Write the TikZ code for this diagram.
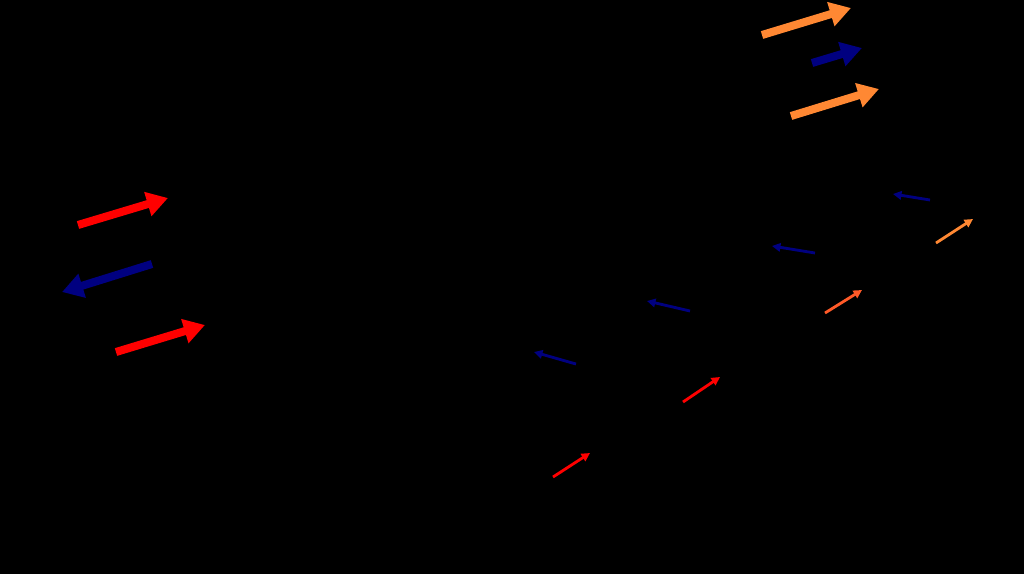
\documentclass[tikz,border=0pt]{standalone}
\usepackage{tikz}
\usetikzlibrary{arrows.meta,positioning}

\definecolor{spinred}{RGB}{255,0,0}
\definecolor{spinblue}{RGB}{0,0,128}
\definecolor{spinorange}{RGB}{255,136,51}
\definecolor{spinmid}{RGB}{255,90,40}

\tikzset{
	bigspin/.style={line width=5.7pt, -{Triangle[length=15pt, width=17pt]}},
	smallspin/.style={line width=2pt, -{Triangle[length=6pt, width=6pt]}}
}

\begin{document}
\begin{tikzpicture}[x=0.025cm, y=-0.025cm]
	\fill[black] (0,0) rectangle (1024,574);
	\useasboundingbox (0,0) rectangle (1024,574);

	\coordinate (aS) at (78,225);   \coordinate (aE) at (168,198);
	\coordinate (bS) at (152,264);  \coordinate (bE) at (62,292);
	\coordinate (cS) at (116,352);  \coordinate (cE) at (205,325);
	\coordinate (dS) at (762,35);   \coordinate (dE) at (851,8);
	\coordinate (eS) at (812,63);   \coordinate (eE) at (862,48);
	\coordinate (fS) at (791,116);  \coordinate (fE) at (879,89);

	\coordinate (g1S) at (930,200); \coordinate (g1E) at (893,194);
	\coordinate (g2S) at (815,253); \coordinate (g2E) at (772,246);
	\coordinate (g3S) at (690,311); \coordinate (g3E) at (647,301);
	\coordinate (g4S) at (576,364); \coordinate (g4E) at (534,352);

	\coordinate (h1S) at (936,243); \coordinate (h1E) at (973,219);
	\coordinate (h2S) at (825,313); \coordinate (h2E) at (862,290);
	\coordinate (h3S) at (683,402); \coordinate (h3E) at (720,377);
	\coordinate (h4S) at (553,477); \coordinate (h4E) at (590,453);

	\draw[bigspin, spinred] (aS) -- (aE);
	\draw[bigspin, spinblue] (bS) -- (bE);
	\draw[bigspin, spinred] (cS) -- (cE);
	\draw[bigspin, spinorange] (dS) -- (dE);
	\draw[bigspin, spinblue] (eS) -- (eE);
	\draw[bigspin, spinorange] (fS) -- (fE);

	\foreach \n in {1,...,4}
		\draw[smallspin, spinblue] (g\n S) -- (g\n E);
	\draw[smallspin, spinorange] (h1S) -- (h1E);
	\draw[smallspin, spinmid] (h2S) -- (h2E);
	\draw[smallspin, spinred] (h3S) -- (h3E);
	\draw[smallspin, spinred] (h4S) -- (h4E);
\end{tikzpicture}
\end{document}
